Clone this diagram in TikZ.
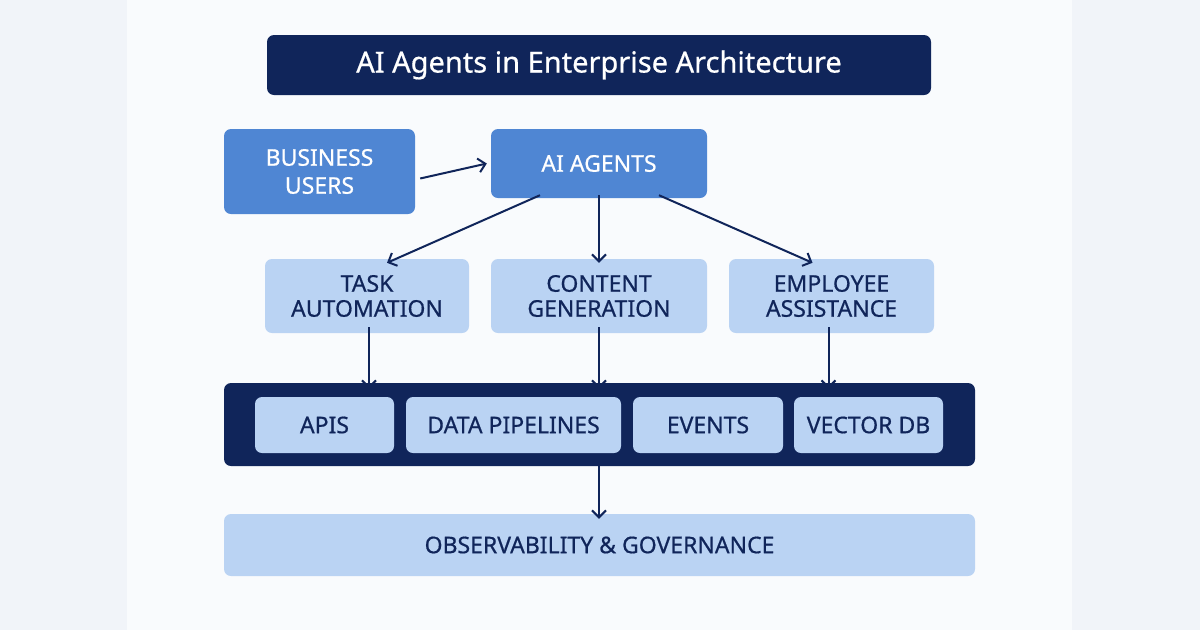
\documentclass[tikz,border=0pt]{standalone}
\usepackage{fontspec}
\setmainfont{Noto Sans}[FakeBold=0.6]
\usetikzlibrary{arrows.meta}
\definecolor{navy}{HTML}{10255A}
\definecolor{midblue}{HTML}{4F86D3}
\definecolor{lightblue}{HTML}{BAD3F3}
\definecolor{pagebg}{HTML}{F9FBFD}
\definecolor{sidebg}{HTML}{F1F4F9}
\tikzset{
    box/.style={rectangle, rounded corners=7pt, inner sep=0pt, align=center, font=\fontsize{23}{25}\selectfont},
    darkbox/.style={box, fill=midblue, text=white},
    lightbox/.style={box, fill=lightblue, text=navy},
    flow/.style={draw=navy, line width=2pt, -{Straight Barb[length=7pt,width=14pt,line width=2pt]}},
}
\begin{document}
\begin{tikzpicture}[x=1pt,y=-1pt]
    % Background
    \useasboundingbox (0,0) rectangle (1200,630);
    \fill[sidebg] (0,0) rectangle (1200,630);
    \fill[pagebg] (127,0) rectangle (1072,630);

    % Title
    \node[box, fill=navy, text=white, minimum width=664pt, minimum height=60pt, font=\fontsize{29}{31}\selectfont] (title) at (599,65) {AI Agents in Enterprise Architecture};

    % Top row
    \node[darkbox, minimum width=191pt, minimum height=85pt, font=\fontsize{23}{28}\selectfont] (users) at (319.5,171.5) {BUSINESS\\USERS};
    \node[darkbox, minimum width=216pt, minimum height=69pt] (agents) at (599,163.5) {AI AGENTS};

    % Use cases
    \node[lightbox, minimum width=204pt, minimum height=74pt] (task) at (367,296) {TASK\\AUTOMATION};
    \node[lightbox, minimum width=216pt, minimum height=74pt] (content) at (599,296) {CONTENT\\GENERATION};
    \node[lightbox, minimum width=205pt, minimum height=74pt] (employee) at (831.5,296) {EMPLOYEE\\ASSISTANCE};

    % Integration bar
    \node[box, fill=navy, minimum width=751pt, minimum height=83pt] (bar) at (599.5,424.5) {};
    \node[lightbox, minimum width=139pt, minimum height=56pt] (apis) at (324.5,425) {APIS};
    \node[lightbox, minimum width=215pt, minimum height=56pt] (pipelines) at (513.5,425) {DATA PIPELINES};
    \node[lightbox, minimum width=150pt, minimum height=56pt] (events) at (708,425) {EVENTS};
    \node[lightbox, minimum width=149pt, minimum height=56pt] (vector) at (868.5,425) {VECTOR DB};

    % Governance
    \node[lightbox, minimum width=751pt, minimum height=62pt] (gov) at (599.5,545) {OBSERVABILITY \& GOVERNANCE};

    % Arrows
    \draw[flow] ([yshift=-7pt]users.east -| users.east) ++(5pt,0) -- ([xshift=-4pt]agents.west);
    \draw[flow] ([xshift=-59pt,yshift=3pt]agents.south) -- ([xshift=20pt,yshift=-4pt]task.north);
    \draw[flow] ([yshift=3pt]agents.south) -- ([yshift=-4pt]content.north);
    \draw[flow] ([xshift=60pt,yshift=3pt]agents.south) -- ([xshift=-19pt,yshift=-4pt]employee.north);
    \draw[flow] ([xshift=2pt,yshift=6pt]task.south) -- ([xshift=2pt,yshift=-6pt]bar.north -| task.south);
    \draw[flow] ([yshift=6pt]content.south) -- ([yshift=-6pt]bar.north -| content.south);
    \draw[flow] ([xshift=-3pt,yshift=6pt]employee.south) -- ([xshift=-3pt,yshift=-6pt]bar.north -| employee.south);
    \draw[flow] ([xshift=-0.5pt,yshift=4pt]bar.south) -- ([xshift=-0.5pt,yshift=-5pt]gov.north);
\end{tikzpicture}
\end{document}
